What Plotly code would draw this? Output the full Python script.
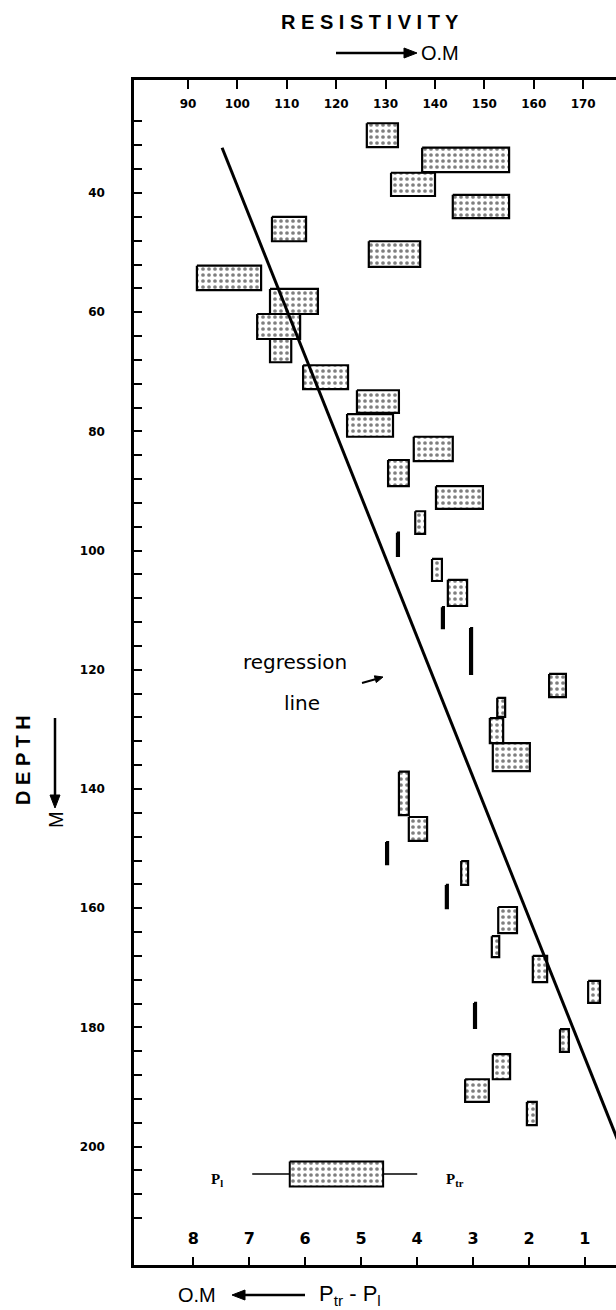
import math
import plotly.graph_objects as go

# Resistivity range (O.M) and depth interval (m) of each measured layer
res_lo = [126.2, 137.4, 131.1, 143.6, 107.0, 126.6, 91.8, 106.6, 104.0, 106.6,
          113.3, 124.2, 122.2, 135.7, 130.5, 140.2, 136.0, 132.3, 139.4, 142.6,
          141.4, 147.1, 163.1, 152.6, 151.1, 151.7, 132.7, 134.7, 130.1, 145.3,
          142.2, 152.8, 151.5, 159.8, 171.0, 147.9, 165.3, 151.7, 146.1, 158.6]
res_hi = [132.5, 155.0, 140.0, 155.0, 113.9, 137.0, 104.8, 116.3, 112.7, 110.9,
          122.4, 132.7, 131.5, 143.6, 134.7, 149.7, 138.0, 132.7, 141.4, 146.5,
          141.8, 147.5, 166.5, 154.2, 153.8, 159.2, 134.7, 138.4, 130.5, 146.7,
          142.6, 156.6, 153.0, 162.7, 173.4, 148.3, 167.1, 155.2, 150.9, 160.6]
depth_top = [28.3, 32.4, 36.6, 40.3, 44.0, 48.1, 52.2, 56.1, 60.3, 64.5,
             68.9, 73.1, 77.1, 80.9, 84.8, 89.2, 93.4, 97.0, 101.4, 104.9,
             109.5, 113.0, 120.7, 124.7, 128.1, 132.3, 137.1, 144.7, 148.9, 152.1,
             156.1, 159.8, 164.7, 168.0, 172.2, 175.9, 180.3, 184.5, 188.7, 192.5]
depth_bot = [32.3, 36.5, 40.5, 44.2, 48.1, 52.4, 56.3, 60.3, 64.5, 68.4,
             72.9, 76.9, 80.9, 85.0, 89.2, 93.0, 97.2, 100.9, 105.1, 109.3,
             113.0, 120.7, 124.6, 127.9, 132.3, 137.0, 144.4, 148.7, 152.6, 156.1,
             160.0, 164.2, 168.2, 172.4, 175.9, 180.1, 184.1, 188.7, 192.5, 196.4]

# Regression of resistivity on depth
reg_depth = [32.4, 200.0]
reg_res = [96.9, 177.5]

# Axis ticks
res_ticks = [90, 100, 110, 120, 130, 140, 150, 160, 170]
depth_ticks = [40, 60, 80, 100, 120, 140, 160, 180, 200]
dp_ticks = [8, 7, 6, 5, 4, 3, 2, 1]

# Key: box spans P_l .. P_tr
key_res = [110.6, 129.5]
key_depth = [202.5, 206.7]
key_whisker = [103.0, 136.4]

W, H = 616, 1310
L, R, T, B = 134, 0, 80, 45


def px(x):
    return (x - L) / (W - L - R)


def py(y):
    return (H - B - y) / (H - T - B)


def rect_path(lo, hi, top, bot):
    xs, ys = [], []
    for a, b, t, d in zip(lo, hi, top, bot):
        xs += [a, b, b, a, a, None]
        ys += [t, t, d, d, t, None]
    return xs, ys


def arrow_shapes(x0, y0, x1, y1, head=13, half=5, width=2.5):
    """Shaft from (x0, y0) to the head tip at (x1, y1), page pixels."""
    dx, dy = x1 - x0, y1 - y0
    n = math.hypot(dx, dy)
    ux, uy = dx / n, dy / n
    bx, by = x1 - ux * head, y1 - uy * head
    lx, ly = bx - uy * half, by + ux * half
    rx, ry = bx + uy * half, by - ux * half
    shaft = dict(type="line", xref="paper", yref="paper",
                 x0=px(x0), y0=py(y0), x1=px(bx), y1=py(by),
                 line=dict(color="black", width=width))
    tip = dict(type="path", xref="paper", yref="paper",
               path=(f"M {px(x1)} {py(y1)} L {px(lx)} {py(ly)} "
                     f"L {px(rx)} {py(ry)} Z"),
               fillcolor="black", line=dict(color="black", width=1))
    return [shaft, tip]


stipple = dict(shape=".", fgcolor="black", bgcolor="white", size=6, solidity=0.3)

fig = go.Figure()

bx, by = rect_path(res_lo, res_hi, depth_top, depth_bot)
fig.add_trace(go.Scatter(
    x=bx, y=by, mode="lines", fill="toself", fillcolor="white",
    fillpattern=stipple, line=dict(color="black", width=2.2),
    hoverinfo="skip", showlegend=False))

fig.add_trace(go.Scatter(
    x=reg_res, y=reg_depth, mode="lines",
    line=dict(color="black", width=3), hoverinfo="skip", showlegend=False))

# key graphic
fig.add_trace(go.Scatter(
    x=key_whisker, y=[sum(key_depth) / 2] * 2, mode="lines",
    line=dict(color="black", width=1.5), hoverinfo="skip", showlegend=False))
kx, ky = rect_path([key_res[0]], [key_res[1]], [key_depth[0]], [key_depth[1]])
fig.add_trace(go.Scatter(
    x=kx, y=ky, mode="lines", fill="toself", fillcolor="white",
    fillpattern=stipple, line=dict(color="black", width=2),
    hoverinfo="skip", showlegend=False))

# invisible trace so the P_tr - P_l scale is drawn
fig.add_trace(go.Scatter(
    x=dp_ticks, y=[depth_ticks[0]] * len(dp_ticks), xaxis="x2", mode="markers",
    marker=dict(opacity=0), hoverinfo="skip", showlegend=False))

tick_font = dict(family="DejaVu Sans", size=12, color="black", weight="bold")

fig.update_layout(
    width=W, height=H,
    margin=dict(l=L, r=R, t=T, b=B),
    paper_bgcolor="white", plot_bgcolor="white",
    xaxis=dict(
        range=[79.07, 176.64], side="top", anchor="y",
        tickvals=res_ticks, ticks="inside", ticklen=9, tickwidth=1.5,
        tickcolor="black", ticklabelposition="inside", ticklabelstandoff=10,
        tickfont=tick_font, showline=True, linewidth=2.5, linecolor="black",
        showgrid=False, zeroline=False, mirror=False),
    xaxis2=dict(
        range=[9.06, 0.444], side="bottom", anchor="y", overlaying="x",
        tickvals=dp_ticks, ticks="inside", ticklen=8, tickwidth=1.5,
        tickcolor="black", ticklabelposition="inside", ticklabelstandoff=10,
        tickfont=dict(family="DejaVu Sans", size=16, color="black", weight="bold"),
        showline=True, linewidth=2.5, linecolor="black",
        showgrid=False, zeroline=False),
    yaxis=dict(
        range=[219.87, 21.04], tickvals=depth_ticks, ticks="inside",
        ticklen=8, tickwidth=1.5, tickcolor="black",
        minor=dict(dtick=4, tick0=0, ticks="inside", ticklen=8,
                   tickwidth=1.5, tickcolor="black"),
        ticklabelstandoff=24, tickfont=tick_font,
        showline=True, linewidth=2.5, linecolor="black",
        showgrid=False, zeroline=False),
)

sans = "Liberation Sans"
ann = [
    dict(x=px(370), y=py(22), text="<b>R E S I S T I V I T Y</b>",
         font=dict(family=sans, size=20, color="black")),
    dict(x=px(440), y=py(53), text="O.M",
         font=dict(family=sans, size=20, color="black")),
    dict(x=px(23), y=py(760), text="<b>D E P T H</b>", textangle=-90,
         font=dict(family=sans, size=20, color="black")),
    dict(x=px(56), y=py(820), text="M", textangle=-90,
         font=dict(family=sans, size=20, color="black")),
    dict(x=px(197), y=py(1295), text="O.M",
         font=dict(family=sans, size=20, color="black")),
    dict(x=px(350), y=py(1295), text="P<sub>tr</sub> - P<sub>l</sub>",
         font=dict(family=sans, size=22, color="black")),
    dict(x=px(295), y=py(662), text="regression",
         font=dict(family="DejaVu Sans", size=20, color="black")),
    dict(x=px(302), y=py(703), text="line",
         font=dict(family="DejaVu Sans", size=20, color="black")),
    dict(x=px(217), y=py(1180), text="<b>P<sub>l</sub></b>",
         font=dict(family="Liberation Serif", size=15, color="black")),
    dict(x=px(455), y=py(1180), text="<b>P<sub>tr</sub></b>",
         font=dict(family="Liberation Serif", size=15, color="black")),
]
for a in ann:
    a.update(xref="paper", yref="paper", xanchor="center", yanchor="middle",
             showarrow=False)

shapes = []
shapes += arrow_shapes(336, 53, 417, 53)
shapes += arrow_shapes(55, 718, 55, 808)
shapes += arrow_shapes(305, 1295, 232, 1295)
shapes += arrow_shapes(362, 683, 383, 677, head=8, half=3.5, width=2)

fig.update_layout(annotations=ann, shapes=shapes)

fig.write_html("out.html")
